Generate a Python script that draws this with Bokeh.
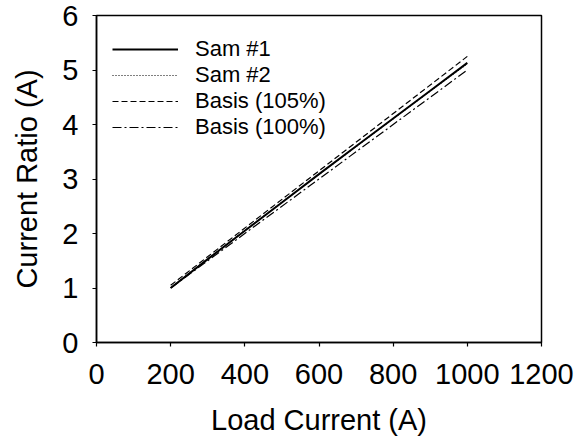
from bokeh.plotting import figure
from bokeh.models import Range1d, FixedTicker, Legend, LegendItem
from bokeh.embed import file_html
from bokeh.resources import INLINE

# Data
load_x = [200, 300, 400, 500, 600, 700, 800, 900, 1000]
sam1 = [1.00, 1.53, 2.05, 2.57, 3.09, 3.60, 4.11, 4.62, 5.13]
sam2 = [1.01, 1.54, 2.06, 2.58, 3.08, 3.59, 4.10, 4.61, 5.11]
basis_x = [200, 1000]
basis105 = [1.05, 5.25]
basis100 = [1.00, 5.00]

x_ticks = [0, 200, 400, 600, 800, 1000, 1200]
y_ticks = [0, 1, 2, 3, 4, 5, 6]

FONT = "Liberation Sans"

p = figure(width=586, height=443, output_backend="svg", toolbar_location=None,
           x_range=Range1d(0, 1200), y_range=Range1d(0, 6),
           min_border_left=96, min_border_right=45, min_border_top=15, min_border_bottom=101)

p.xgrid.visible = False
p.ygrid.visible = False
p.outline_line_color = "black"
p.outline_line_width = 1.5
p.background_fill_color = "white"
p.border_fill_color = "white"

r1 = p.line(load_x, sam1, line_color="black", line_width=2)
r2 = p.line(load_x, sam2, line_color="black", line_width=1, line_dash="1 2")
r3 = p.line(basis_x, basis105, line_color="black", line_width=1.2, line_dash="6 3")
r4 = p.line(basis_x, basis100, line_color="black", line_width=1.2, line_dash="9 3 2 3")

for ax in (p.xaxis[0], p.yaxis[0]):
    ax.axis_line_color = "black"
    ax.axis_line_width = 1.5
    ax.major_tick_line_color = "black"
    ax.major_tick_line_width = 1.2
    ax.major_tick_out = 4
    ax.major_tick_in = 0
    ax.minor_tick_line_color = None
    ax.major_label_text_font = FONT
    ax.major_label_text_font_size = "29px"
    ax.major_label_text_color = "black"
    ax.axis_label_text_font = FONT
    ax.axis_label_text_font_size = "29px"
    ax.axis_label_text_font_style = "normal"
    ax.axis_label_text_color = "black"
    ax.axis_label_text_line_height = 1.0
    ax.major_label_text_line_height = 1.0

p.xaxis[0].ticker = FixedTicker(ticks=x_ticks)
p.yaxis[0].ticker = FixedTicker(ticks=y_ticks)
p.xaxis[0].axis_label = "Load Current (A)"
p.yaxis[0].axis_label = "Current Ratio (A)"
p.xaxis[0].major_label_standoff = 17
p.yaxis[0].major_label_standoff = 14
p.xaxis[0].axis_label_standoff = 17
p.yaxis[0].axis_label_standoff = 16

legend = Legend(items=[
    LegendItem(label="Sam #1", renderers=[r1]),
    LegendItem(label="Sam #2", renderers=[r2]),
    LegendItem(label="Basis (105%)", renderers=[r3]),
    LegendItem(label="Basis (100%)", renderers=[r4]),
], location=(16, 202))
legend.border_line_color = None
legend.background_fill_alpha = 0
legend.label_text_font = FONT
legend.label_text_font_size = "22px"
legend.label_text_color = "black"
legend.glyph_width = 66
legend.glyph_height = 26
legend.label_height = 26
legend.label_standoff = 17
legend.spacing = 0
legend.margin = 0
legend.padding = 0
p.add_layout(legend)

open("out.html", "w").write(file_html(p, INLINE))
